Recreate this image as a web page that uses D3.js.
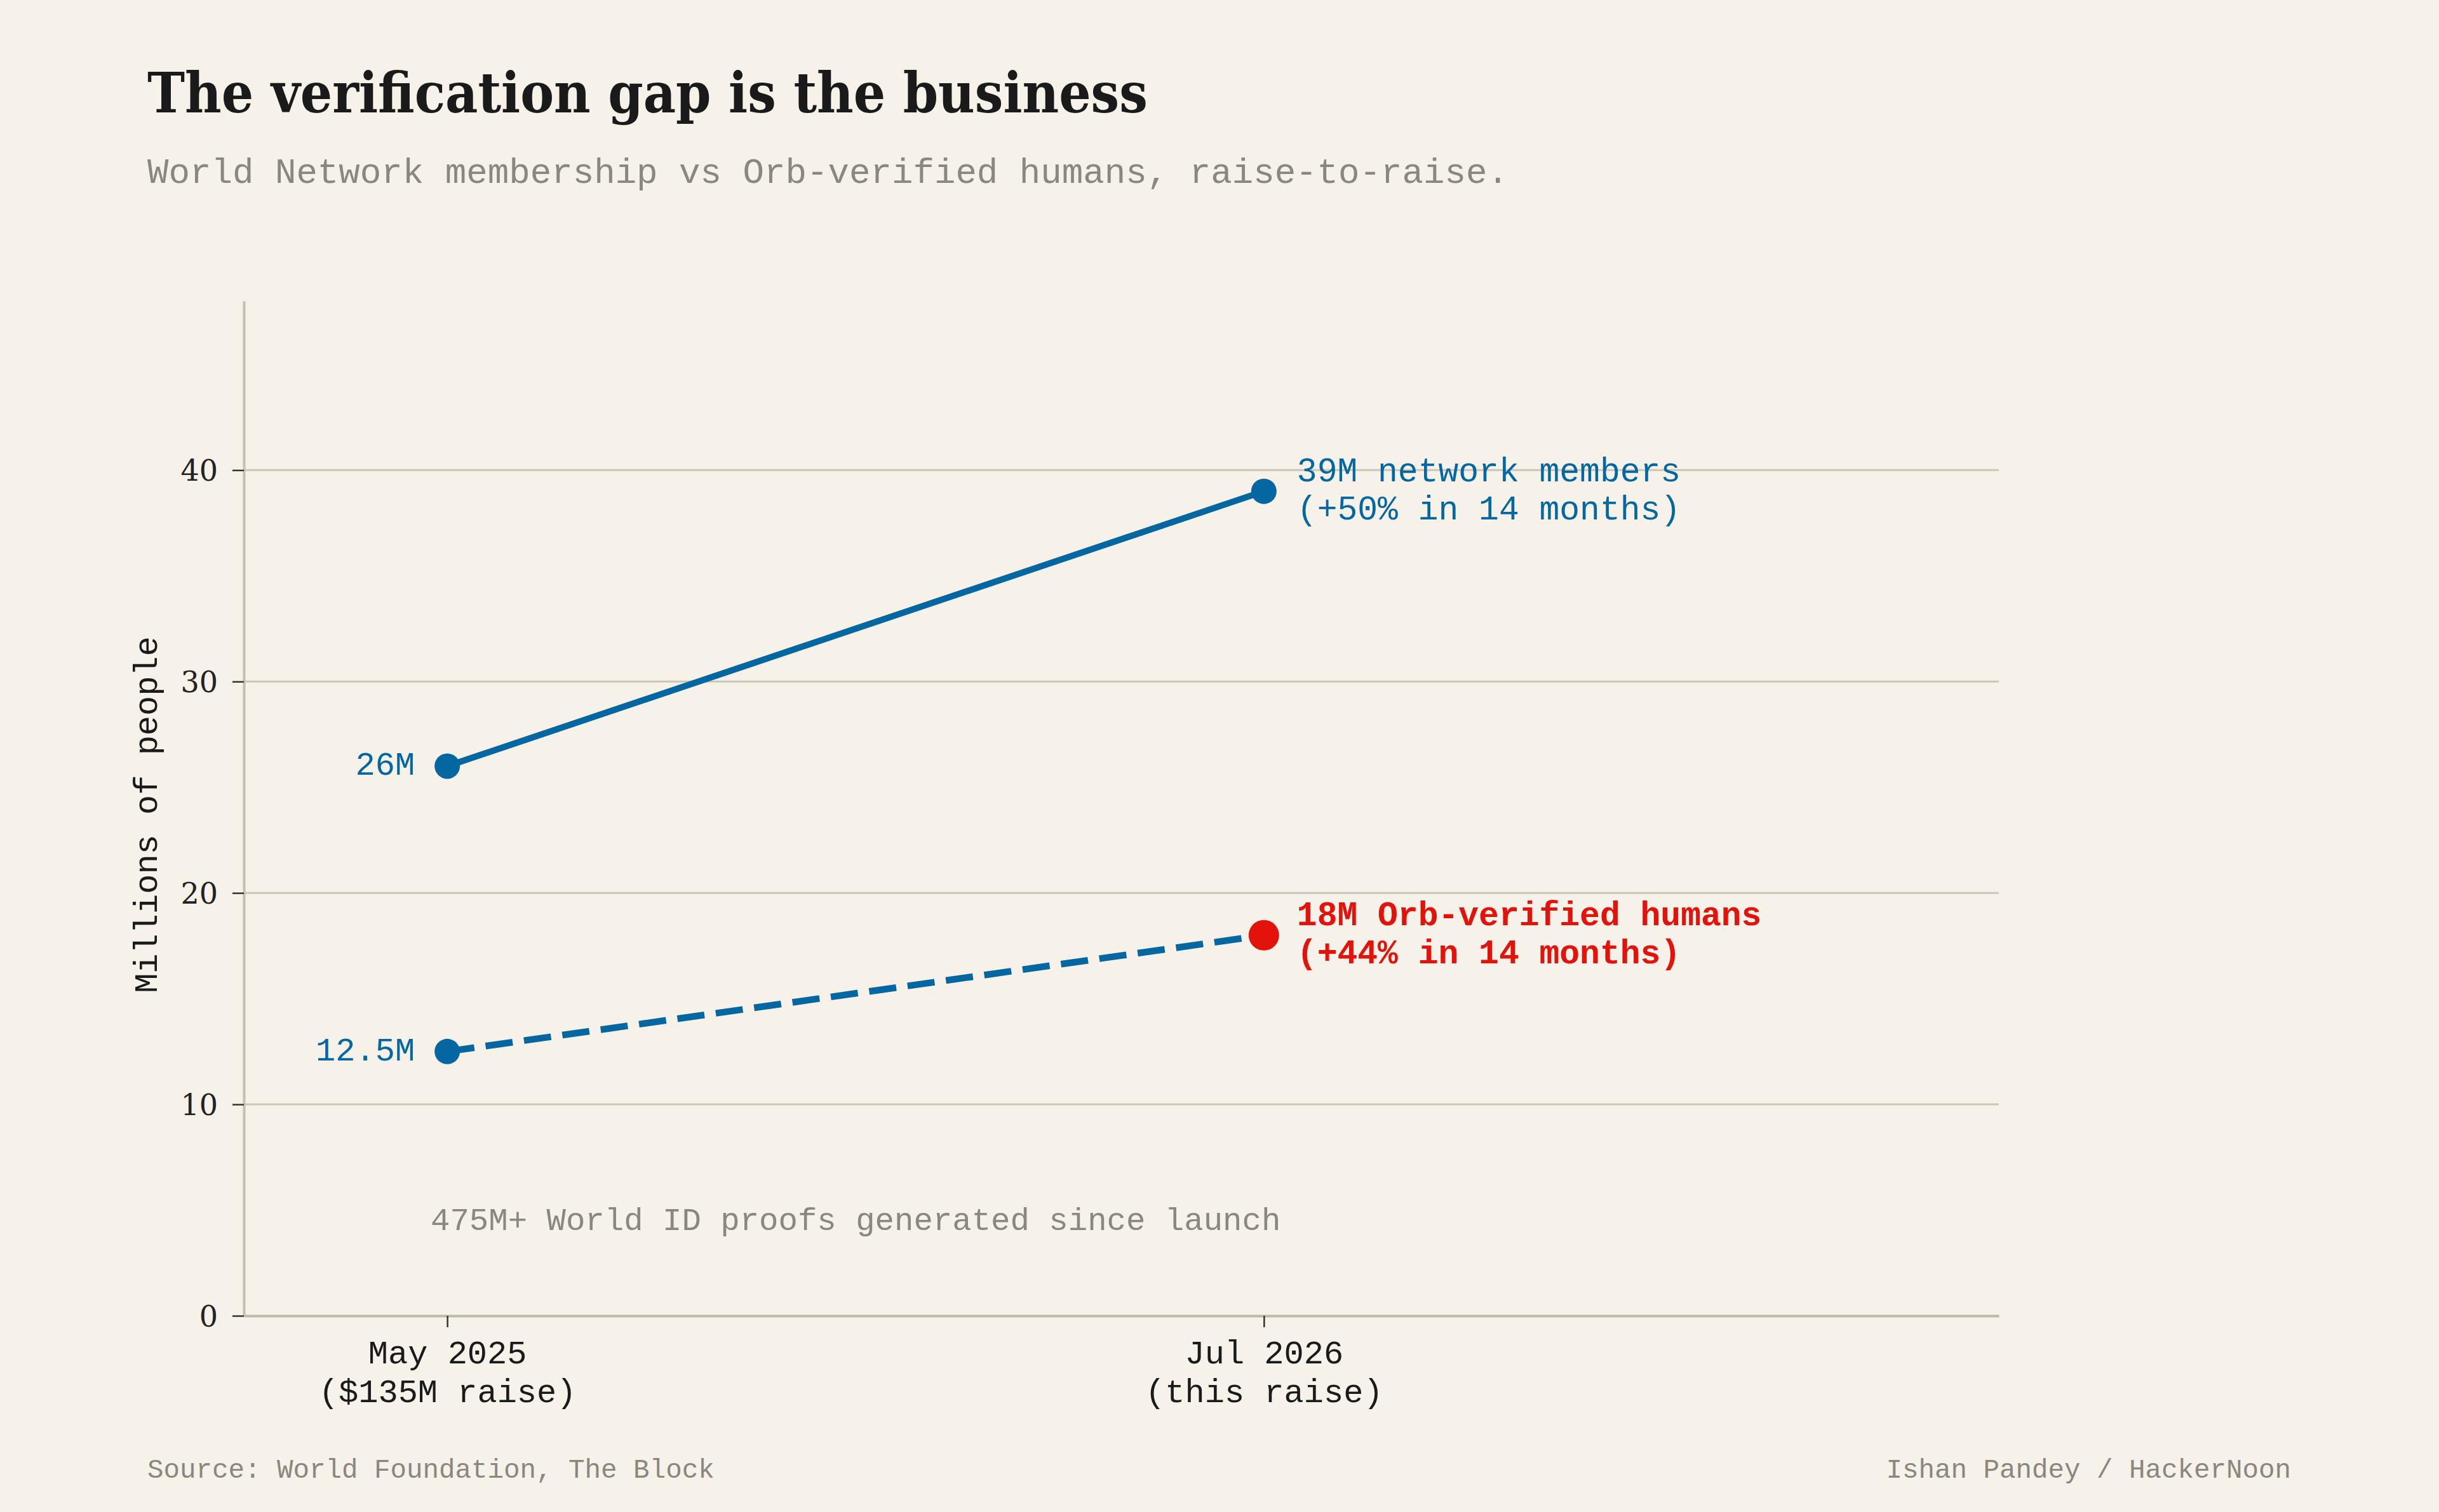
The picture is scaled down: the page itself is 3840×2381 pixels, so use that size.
<!DOCTYPE html>
<html><head><meta charset="utf-8">
<script src="https://cdn.jsdelivr.net/npm/d3@7/dist/d3.min.js"></script>
<style>
html,body{margin:0;padding:0;background:#f6f1e9;}
svg{display:block;}
</style></head>
<body>
<svg id="chart" width="3840" height="2381"></svg>
<script>
// ---- data ----
const periods = ["May 2025", "Jul 2026"];
const periodNotes = ["($135M raise)", "(this raise)"];
const networkMembers = [26, 39];
const orbVerified = [12.5, 18];
const startLabels = ["26M", "12.5M"];
const networkEndLabel = ["39M network members", "(+50% in 14 months)"];
const orbEndLabel = ["18M Orb-verified humans", "(+44% in 14 months)"];
const yTicks = [0, 10, 20, 30, 40];
const titleText = "The verification gap is the business";
const subtitleText = "World Network membership vs Orb-verified humans, raise-to-raise.";
const yLabel = "Millions of people";
const noteText = "475M+ World ID proofs generated since launch";
const sourceText = "Source: World Foundation, The Block";
const creditText = "Ishan Pandey / HackerNoon";

// ---- styles ----
const BG = "#f6f1e9", BLUE = "#0567a2", RED = "#e3120b", GRID = "#cbc6b9",
      GRAY = "#8a877f", INK = "#1a1a1a";
const MONO = "'Liberation Mono','DejaVu Sans Mono',monospace";
const SERIF = "'DejaVu Serif','Liberation Serif',serif";

const svg = d3.select("#chart");
svg.append("rect").attr("width", 3840).attr("height", 2381).attr("fill", BG);

const x = d3.scaleLinear().domain([-0.249, 1.9]).range([384, 3147]);
const y = d3.scaleLinear().domain([0, 48]).range([2072, 474]);

// title / subtitle
const title = svg.append("text").attr("x", 232).attr("y", 177)
  .attr("font-family", "'DejaVu Serif Condensed','Liberation Serif',serif").attr("font-weight", 700)
  .attr("font-size", 88).attr("fill", INK).text(titleText);
const tw = title.node().getComputedTextLength();
title.attr("font-size", 88 * 1575 / tw);

svg.append("text").attr("x", 232).attr("y", 288)
  .attr("font-family", MONO).attr("font-size", 55.8).attr("fill", GRAY).text(subtitleText);

// gridlines
svg.append("g").selectAll("line").data(yTicks.filter(d => d > 0)).join("line")
  .attr("x1", 384).attr("x2", 3147).attr("y1", d => y(d)).attr("y2", d => y(d))
  .attr("stroke", GRID).attr("stroke-width", 3);

// y axis
const yAxis = svg.append("g").attr("transform", "translate(384,0)")
  .call(d3.axisLeft(y).tickValues(yTicks).tickSize(18).tickSizeOuter(0).tickPadding(23));
yAxis.select(".domain").attr("stroke", "#c4bfb2").attr("stroke-width", 4);
yAxis.selectAll(".tick line").attr("stroke", "#333").attr("stroke-width", 2.5);
yAxis.selectAll(".tick text").attr("font-family", SERIF).attr("font-size", 46)
  .attr("fill", "#222").attr("dy", "0.36em");

// x axis
const xAxis = svg.append("g").attr("transform", "translate(0,2072)")
  .call(d3.axisBottom(x).tickValues([0, 1]).tickSize(18).tickSizeOuter(0).tickFormat(""));
xAxis.select(".domain").attr("stroke", "#bdb8ab").attr("stroke-width", 4);
xAxis.selectAll(".tick line").attr("stroke", "#333").attr("stroke-width", 2.5);
xAxis.selectAll(".tick text").remove();
xAxis.selectAll(".tick").each(function(d) {
  const t = d3.select(this).append("text").attr("text-anchor", "middle")
    .attr("font-family", MONO).attr("font-size", 52).attr("fill", "#1a1a1a");
  t.append("tspan").attr("x", 0).attr("y", 75).text(periods[d]);
  t.append("tspan").attr("x", 0).attr("y", 136).text(periodNotes[d]);
});

// y label
svg.append("text").attr("transform", `translate(247,${y(23.7)}) rotate(-90)`)
  .attr("text-anchor", "middle").attr("font-family", MONO).attr("font-size", 52)
  .attr("fill", "#1a1a1a").text(yLabel);

// lines
const line = d3.line().x((d, i) => x(i)).y(d => y(d));
svg.append("path").datum(networkMembers).attr("d", line).attr("fill", "none")
  .attr("stroke", BLUE).attr("stroke-width", 10);
svg.append("path").datum(orbVerified).attr("d", line).attr("fill", "none")
  .attr("stroke", BLUE).attr("stroke-width", 10.5).attr("stroke-dasharray", "43,18");

// dots
svg.append("g").selectAll("circle").data(networkMembers).join("circle")
  .attr("cx", (d, i) => x(i)).attr("cy", d => y(d)).attr("r", 20).attr("fill", BLUE);
svg.append("g").selectAll("circle").data(orbVerified).join("circle")
  .attr("cx", (d, i) => x(i)).attr("cy", d => y(d))
  .attr("r", (d, i) => i === 1 ? 24 : 20).attr("fill", (d, i) => i === 1 ? RED : BLUE);

// start labels
svg.append("g").selectAll("text").data([networkMembers[0], orbVerified[0]]).join("text")
  .attr("x", x(0) - 51).attr("y", d => y(d) + 14).attr("text-anchor", "end")
  .attr("font-family", MONO).attr("font-size", 52).attr("fill", BLUE)
  .text((d, i) => startLabels[i]);

// end labels
function endLabel(lines, v, color, weight) {
  const t = svg.append("text").attr("font-family", MONO).attr("font-size", 53)
    .attr("fill", color).attr("font-weight", weight);
  lines.forEach((s, k) => t.append("tspan").attr("x", x(1) + 52).attr("y", y(v) - 16 + k * 60).text(s));
}
endLabel(networkEndLabel, networkMembers[1], BLUE, 400);
endLabel(orbEndLabel, orbVerified[1], RED, 700);

// note
svg.append("text").attr("x", 678).attr("y", 1937).attr("font-family", MONO)
  .attr("font-size", 50.7).attr("fill", GRAY).text(noteText);

// footer
svg.append("text").attr("x", 232).attr("y", 2327).attr("font-family", MONO)
  .attr("font-size", 42.5).attr("fill", GRAY).text(sourceText);
svg.append("text").attr("x", 3607).attr("y", 2327).attr("text-anchor", "end")
  .attr("font-family", MONO).attr("font-size", 42.5).attr("fill", GRAY).text(creditText);
</script>
</body></html>
